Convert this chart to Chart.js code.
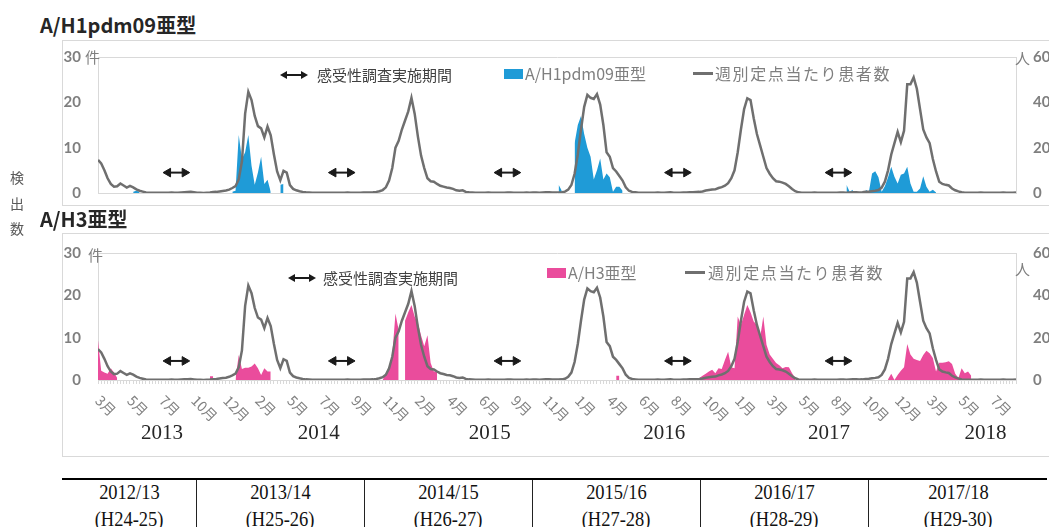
<!doctype html>
<html lang="ja">
<head>
  <meta charset="utf-8">
  <title>A/H1pdm09亜型・A/H3亜型 検出数</title>
  <style>
    * { margin: 0; padding: 0; }
    body {
      width: 1049px; height: 527px; overflow: hidden; position: relative; background: #fff;
      font-family: 'Noto Sans CJK JP', 'Noto Sans', sans-serif;
    }
    .abs { position: absolute; white-space: nowrap; }
    .title { font-size: 20px; font-weight: bold; color: #262626; line-height: 26px; }
    .frame { position: absolute; left: 62px; width: 1000px; border: 1px solid #d9d9d9; box-sizing: border-box; }
    .chartBox { position: absolute; left: 62px; width: 1000px; }
    .unit { font-size: 15px; color: #7f7f7f; line-height: 20px; }
    .legend { font-size: 16px; color: #7f7f7f; line-height: 20px; }
    .survey { font-size: 15px; color: #404040; line-height: 20px; }
    .spaced { letter-spacing: 1.6px; }
    .swatch { position: absolute; width: 19px; height: 10px; }
    .lineKey { position: absolute; width: 20px; height: 3px; background: #6f6f6f; }
    #sideLabel { left: 10px; top: 165px; font-size: 14px; color: #595959; line-height: 25.5px; }
    #seasonTable { left: 62px; top: 478px; border-collapse: collapse; border-top: 2px solid #000;
      font-family: 'Liberation Serif', serif; font-size: 21px; color: #111; }
    #seasonTable td { text-align: center; border-left: 1px solid #222; }
    #seasonTable td span { display: inline-block; transform: scaleX(0.88); }
    #seasonTable td:first-child { border-left: none; }
    #seasonTable tr:first-child td { line-height: 24px; }
    #seasonTable tr:last-child td { line-height: 30px; }
  </style>
</head>
<body>
  <!-- panel 1 -->
  <div class="abs title" style="left:40px; top:12px;">A/H1pdm09亜型</div>
  <div class="frame" style="top:40px; height:166px;"></div>
  <div class="chartBox" style="top:40px; height:165px;"><canvas id="h1Chart" width="1000" height="165"></canvas></div>
  <div class="abs unit" style="left:85px; top:47px;">件</div>
  <div class="abs unit" style="left:1015px; top:48px;">人</div>
  <svg class="abs" style="left:280px; top:70px;" width="28" height="10"><line x1="5" y1="5" x2="23" y2="5" stroke="#1a1a1a" stroke-width="2"/><polygon points="0,5 7,1 7,9" fill="#1a1a1a"/><polygon points="28,5 21,1 21,9" fill="#1a1a1a"/></svg>
  <div class="abs survey" style="left:317px; top:65px;">感受性調査実施期間</div>
  <div class="swatch" style="left:504px; top:69px; background:#1f9bd7;"></div>
  <div class="abs legend" style="left:525px; top:63px;">A/H1pdm09亜型</div>
  <div class="lineKey" style="left:693px; top:72px;"></div>
  <div class="abs legend spaced" style="left:715px; top:63px;">週別定点当たり患者数</div>

  <!-- panel 2 -->
  <div class="abs title" style="left:40px; top:206px;">A/H3亜型</div>
  <div class="frame" style="top:233px; height:224px;"></div>
  <div class="chartBox" style="top:233px; height:224px;"><canvas id="h3Chart" width="1000" height="224"></canvas></div>
  <div class="abs unit" style="left:88px; top:245px;">件</div>
  <div class="abs unit" style="left:1015px; top:259px;">人</div>
  <svg class="abs" style="left:288px; top:273px;" width="28" height="10"><line x1="5" y1="5" x2="23" y2="5" stroke="#1a1a1a" stroke-width="2"/><polygon points="0,5 7,1 7,9" fill="#1a1a1a"/><polygon points="28,5 21,1 21,9" fill="#1a1a1a"/></svg>
  <div class="abs survey" style="left:323px; top:268px;">感受性調査実施期間</div>
  <div class="swatch" style="left:547px; top:268px; background:#ea4c9c;"></div>
  <div class="abs legend" style="left:568px; top:262px;">A/H3亜型</div>
  <div class="lineKey" style="left:685px; top:271px;"></div>
  <div class="abs legend spaced" style="left:708px; top:262px;">週別定点当たり患者数</div>

  <div class="abs" id="sideLabel">検<br>出<br>数</div>
  <table class="abs" id="seasonTable"></table>

  <script src="https://cdn.jsdelivr.net/npm/chart.js"></script>
  <script>
    // weekly data, week 0 = early March 2013
    const weeks = 288;
    const monthTicks = ['3月','5月','7月','10月','12月','2月','5月','7月','9月','11月','2月','4月','6月','9月','11月',
                        '1月','4月','6月','8月','10月','1月','3月','5月','8月','10月','12月','3月','5月','7月'];
    const yearLabels = ['2013', '2014', '2015', '2016', '2017', '2018'];
    const yearWeeks = [20, 69, 122.5, 177, 228.5, 277.5];
    const seasons = ['2012/13', '2013/14', '2014/15', '2015/16', '2016/17', '2017/18'];
    const eras = ['(H24-25)', '(H25-26)', '(H26-27)', '(H27-28)', '(H28-29)', '(H29-30)'];

    // 週別定点当たり患者数 (right axis, 人)
    const patients = [
      14.6, 13, 10, 6.5, 4, 2.8, 3, 4.2, 3.3, 2.4, 3.1, 2.5, 1.6, 1.0, 0.6, 0.2,
      0.1, 0.1, 0.1, 0.1, 0.1, 0.1, 0.1, 0.2, 0.1, 0.1, 0.2, 0.3, 0.4,
      0.5, 0.3, 0.1, 0.1, 0, 0.1, 0.2, 0.4, 0.5, 0.7, 0.9, 1.1, 1.5, 2.2, 3.0, 6.0,
      14, 35, 44.6, 41, 34, 29.5, 28.5, 24.5, 29.3, 25.5, 17, 9.5, 5.6, 9.8, 9, 3.5, 1.8, 1.2, 0.8, 0.5, 0.3,
      0.2, 0.1, 0.1, 0.1, 0.1, 0.1, 0.1, 0.1, 0.1, 0.1, 0.1, 0.1, 0.2, 0.1, 0.1, 0.1, 0.1, 0.2, 0.2,
      0.2, 0.3, 0.5, 0.8, 1.3, 2.5, 5.5, 11, 20, 23, 28, 32, 36, 42, 35, 25, 16.5, 11, 6.5, 5.2, 5, 4, 3.2, 2.8,
      2.4, 2.2, 1.8, 1.2, 1.0, 1.2, 0.5, 0.3,
      0.2, 0.1, 0.1, 0.1, 0.1, 0.2, 0.1, 0.1, 0.1, 0.1, 0.1, 0.2, 0.2, 0.1, 0.1, 0.1, 0.1, 0.2, 0.1, 0.2,
      0.2, 0.1, 0.2, 0.3, 0.3, 0.2, 0.2,
      0.2, 0.3, 0.6, 1.5, 3.5, 8.5, 17, 28, 38, 43.3, 42, 41.5, 43.6, 39, 30, 18, 16, 11, 9.5, 7.5, 5.5, 2.5, 1, 0.5, 0.3,
      0.1, 0.1, 0.1, 0.1, 0.1, 0.1, 0.2, 0.1, 0.1, 0.2, 0.3, 0.1, 0.1, 0.1, 0.2, 0.2, 0.3, 0.3, 0.4,
      0.5, 0.7, 1.1, 1.3, 1.5, 1.6, 2.2, 2.6, 3.2, 4.3, 6.5, 10, 18, 28, 37, 41.8, 41, 33, 26, 21,
      16, 11, 8.5, 6.5, 5.2, 5, 4.6, 4, 3, 1.8, 0.8, 0.3,
      0.1, 0.1, 0.1, 0.1, 0.2, 0.1, 0.1, 0.1, 0.1, 0.1, 0.1, 0.1, 0.2, 0.2, 0.1, 0.2, 0.3, 0.3, 0.2, 0.3,
      0.5, 0.6, 0.8, 1, 1.3, 2.4, 5, 10, 17, 22, 27, 22.5, 27.5, 48, 48, 51, 46, 37, 28, 24.5,
      22, 15, 9.5, 5, 4, 3.6, 3.3, 2, 1.2, 0.7, 0.3,
      0.1, 0.1, 0.1, 0.1, 0.1, 0.2, 0.1, 0.1, 0.1, 0.1, 0.1, 0.1, 0.2, 0.1, 0.1, 0.1, 0.2
    ];

    // detections (left axis, 件): [first week, weekly values]; weeks not listed are blank
    const h1Runs = [
      [11, [0.3, 0.5, 0.3]],
      [42, [0.3, 0.5, 12.8, 7.5, 9, 12.8, 6, 1.8, 4.5, 8, 2, 2.9, 0.3]],
      [57, [1.8, 2.0]],
      [144, [1.8, 0.5]],
      [149, [11, 15, 17, 13, 10, 8, 3, 5, 7.6, 3, 4.3, 3.5, 0.3]],
      [162, [1.4, 1.4, 0.5]],
      [234, [1.8, 0.3, 0.7]],
      [240, [0.7, 0.2, 4.3, 4.8, 3.5, 0.3, 1.5, 3.5, 5.8, 3.6, 2.1, 4, 4.3, 5.8, 2.1, 0.3, 0.3, 1, 3.7, 1.4, 0.3, 0.7, 0.1]]
    ];
    const h3Runs = [
      [0, [9.4, 2.2, 1.8, 1.5, 2.8, 1.8, 0.5]],
      [35, [0.9, 0.9]],
      [43, [0.3, 5.9, 2.6, 2.9, 2.9, 3.2, 3.9, 2.8, 1.2, 2.8, 2, 2]],
      [89, [0, 1.6, 2.8, 6, 15.7, 11.8]],
      [96, [14, 16, 17.7, 15, 13.5, 10.5, 8, 10.6, 4, 2, 2]],
      [162, [1, 1]],
      [188, [0.5, 1, 1.5, 2, 2.4, 1.6, 2.8, 2.6, 4.7, 6.7, 3, 2.8, 15, 13, 15.4, 17.7, 16, 13.8, 13, 10,
             15, 8.3, 6, 5, 4, 3.5, 2.8, 3.1, 3, 1.6, 0.5]],
      [247, [0.2, 1.5, 0, 1.2, 2.2, 3, 8.5, 6, 5, 4.7, 4.5, 5.9, 6.9, 6.3, 5.2, 2, 4.1, 4.1, 4.2, 4.4,
             3.8, 1.5, 0.5, 2.8, 1.6, 2, 1]]
    ];

    // 感受性調査実施期間 (start week, end week), drawn at this left-axis level
    const surveyPeriods = [[21.9, 27.1], [73.6, 78.8], [125.4, 130.6], [178.7, 183.9], [228.9, 234.1]];
    const surveyLevel = 4.5;

    function expandRuns(runs) {
      const out = new Array(weeks).fill(null);
      runs.forEach(([start, vals]) => vals.forEach((v, i) => { out[start + i] = v; }));
      return out;
    }

    // season table
    const table = document.getElementById('seasonTable');
    const colWidths = [134, 167, 167, 167, 167, 178];
    [seasons, eras].forEach(row => {
      const tr = document.createElement('tr');
      row.forEach((txt, i) => {
        const td = document.createElement('td');
        td.style.width = colWidths[i] + 'px';
        const sp = document.createElement('span');
        sp.textContent = txt;
        td.appendChild(sp);
        tr.appendChild(td);
      });
      table.appendChild(tr);
    });

    Chart.defaults.font.family = "'Noto Sans CJK JP', 'Noto Sans', sans-serif";

    // rotated month labels and year labels under the lower panel
    const axisLabels = {
      id: 'axisLabels',
      afterDraw(chart) {
        if (!chart.options.plugins.axisLabels.show) return;
        const { ctx, chartArea, scales: { x } } = chart;
        ctx.save();
        ctx.fillStyle = '#808080';
        ctx.font = "14px 'Noto Sans CJK JP'";
        ctx.textAlign = 'left';
        ctx.textBaseline = 'middle';
        monthTicks.forEach((m, i) => {
          ctx.save();
          ctx.translate(x.getPixelForValue(i * 10), chartArea.bottom + 18);
          ctx.rotate(Math.PI / 4);
          ctx.fillText(m, 0, 0);
          ctx.restore();
        });
        ctx.fillStyle = '#262626';
        ctx.font = "21px 'Liberation Serif'";
        ctx.textAlign = 'center';
        yearLabels.forEach((yl, i) => {
          ctx.fillText(yl, x.getPixelForValue(yearWeeks[i]), chartArea.bottom + 53);
        });
        ctx.restore();
      }
    };

    function drawPanel(id, label, runs, color, topPad, xHeight, comb) {
      const arrowSets = surveyPeriods.map(([a, b]) => ({
        type: 'line',
        data: [{ x: a, y: surveyLevel }, { x: b, y: surveyLevel }],
        yAxisID: 'y',
        borderColor: '#1a1a1a',
        backgroundColor: '#1a1a1a',
        borderWidth: 2,
        pointStyle: 'triangle',
        pointRadius: 5,
        pointBorderWidth: 1,
        pointRotation: [-90, 90],
        fill: false,
        order: 0
      }));
      const tickFont = { size: 15, weight: 'bold', family: 'Lato' };
      return new Chart(document.getElementById(id), {
        type: 'line',
        data: {
          labels: Array.from({ length: weeks }, (_, i) => i),
          datasets: [
            ...arrowSets,
            {
              label: '週別定点当たり患者数',
              data: patients,
              yAxisID: 'y2',
              borderColor: '#6f6f6f',
              borderWidth: 2.5,
              pointRadius: 0,
              tension: 0,
              fill: false,
              order: 1
            },
            {
              label: label,
              data: expandRuns(runs),
              yAxisID: 'y',
              backgroundColor: color,
              borderColor: 'rgba(0,0,0,0)',
              borderWidth: 0,
              pointRadius: 0,
              tension: 0,
              spanGaps: false,
              fill: 'origin',
              order: 2
            }
          ]
        },
        options: {
          responsive: false,
          animation: false,
          layout: { padding: { top: topPad, left: 0, right: 0, bottom: 0 } },
          scales: {
            x: {
              type: 'linear',
              min: 0,
              max: weeks - 1,
              afterFit: s => { s.height = xHeight; },
              ticks: { display: false, stepSize: 1 },
              grid: { display: comb, drawOnChartArea: false, drawTicks: true, tickLength: 4, color: '#d9d9d9' },
              border: { color: '#d9d9d9' }
            },
            y: {
              min: 0,
              max: 30,
              afterFit: s => { s.width = 36; },
              ticks: { stepSize: 10, padding: 3, color: '#7f7f7f', font: tickFont },
              grid: {
                drawTicks: true,
                tickLength: 14,
                tickColor: 'rgba(0,0,0,0)',
                color: c => (c.tick && c.tick.value === 30) ? '#d9d9d9' : 'rgba(0,0,0,0)'
              },
              border: { color: '#d9d9d9' }
            },
            y2: {
              position: 'right',
              min: 0,
              max: 60,
              afterFit: s => { s.width = 46; },
              ticks: { stepSize: 20, padding: 3, color: '#7f7f7f', font: tickFont },
              grid: { drawTicks: true, tickLength: 14, tickColor: 'rgba(0,0,0,0)', color: 'rgba(0,0,0,0)' },
              border: { color: '#d9d9d9' }
            }
          },
          plugins: {
            legend: { display: false },
            tooltip: { enabled: false },
            axisLabels: { show: comb }
          }
        },
        plugins: [axisLabels]
      });
    }

    drawPanel('h1Chart', 'A/H1pdm09亜型', h1Runs, '#1f9bd7', 17, 12, false);
    drawPanel('h3Chart', 'A/H3亜型', h3Runs, '#ea4c9c', 20, 77, true);
  </script>
</body>
</html>
